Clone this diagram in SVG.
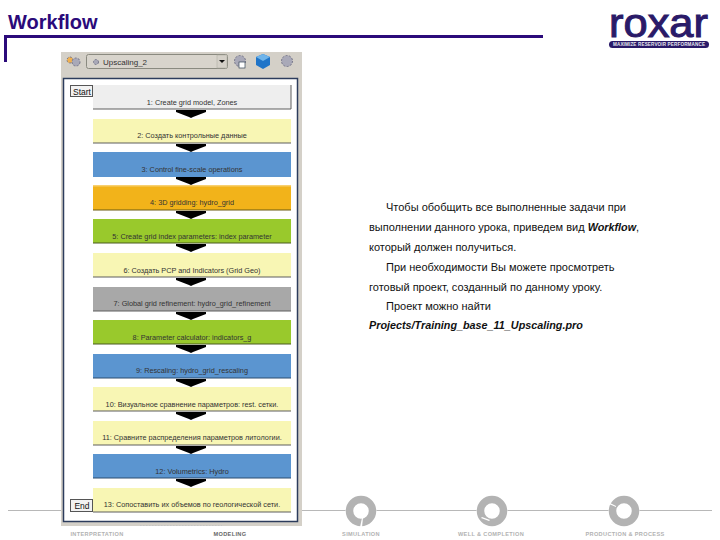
<svg xmlns="http://www.w3.org/2000/svg" width="720" height="540" viewBox="0 0 720 540">
<style>
.b{stroke:#5f5f5f;stroke-width:1;fill:none}
.l{font:7.300px "Liberation Sans",Arial,sans-serif;fill:#333;text-anchor:middle}
.p{font:11px "Liberation Sans",Arial,sans-serif;fill:#111}
.q{font:italic bold 10.800px "Liberation Sans",Arial,sans-serif;fill:#111}
.f{font:bold 5.600px "Liberation Sans",Arial,sans-serif;fill:#b2b2b2;text-anchor:middle;letter-spacing:.35px}
.g{fill:#a9a9b8;stroke:#77778a;stroke-width:1;stroke-dasharray:2 1.400}
.r{fill:none;stroke:#b3b3b3;stroke-width:7.500}
.x{font:8.500px "Liberation Sans",Arial,sans-serif;fill:#111;text-anchor:middle}
</style>
<defs>
<polygon id="ar" points="-15,0 15,0 15,2 2,7 0,8 -2,7 -15,2" fill="#000"/>
</defs>
<rect width="720" height="540" fill="#fff"/>
<g id="header">
<text x="8" y="29" font-family="Liberation Sans,Arial,sans-serif" font-weight="bold" font-size="20" fill="#2b0a7a">Workflow</text>
<path d="M5.500 62V36.500H543" fill="none" stroke="#2b0a7a" stroke-width="3"/>
</g>
<g id="logo">
<text x="609" y="37" font-family="Liberation Sans,Arial,sans-serif" font-size="40" fill="#2a1a68" stroke="#2a1a68" stroke-width="1" textLength="99" lengthAdjust="spacingAndGlyphs">roxar</text>
<rect x="609" y="41" width="100" height="7" rx="3.500" fill="#2a1a68"/>
<text x="659" y="46.300" font-family="Liberation Sans,Arial,sans-serif" font-weight="bold" font-size="4.600" fill="#e8e8f0" text-anchor="middle" textLength="92">MAXIMIZE RESERVOIR PERFORMANCE</text>
</g>
<g id="footer">
<path d="M8 510.500H712" stroke="#b8b8b8" stroke-width="1"/>
<circle cx="361" cy="511" r="15.500" fill="#fff"/>
<circle cx="492" cy="511" r="15.500" fill="#fff"/>
<circle cx="624" cy="511" r="15.500" fill="#fff"/>
<circle class="r" cx="361" cy="511" r="11.500"/><path d="M360 527l2-9 1 0-1 9z" fill="#fff"/>
<circle class="r" cx="492" cy="511" r="11.500"/><path d="M482 517l8 3-1 1-8-3z" fill="#fff"/>
<circle class="r" cx="624" cy="511" r="11.500"/><path d="M610 503l6 3 0 1-7-3z" fill="#fff"/>
<text class="f" x="97" y="536">INTERPRETATION</text>
<text class="f" x="230" y="536" style="fill:#666">MODELING</text>
<text class="f" x="361" y="536">SIMULATION</text>
<text class="f" x="491" y="536">WELL &amp; COMPLETION</text>
<text class="f" x="625" y="536">PRODUCTION &amp; PROCESS</text>
</g>
<g id="panel">
<rect x="61" y="52" width="241" height="474" fill="#d4d0c8"/>
<rect x="63.500" y="78.500" width="234" height="443" fill="#fff" stroke="#2c3c5c" stroke-width="1.500"/>
<rect x="86.500" y="54.500" width="141" height="14" rx="2" fill="#d8d4cc" stroke="#8a8a80"/>
<rect x="217" y="55" width="10" height="13" fill="#d4d0c8" stroke="#a8a89c" stroke-width=".5"/>
<path d="M219 60h6l-3 3z" fill="#111"/>
<circle class="g" cx="70" cy="60" r="3" style="fill:#f0b050"/><circle class="g" cx="76" cy="62" r="4"/>
<circle class="g" cx="96" cy="62" r="2.500"/>
<text x="103" y="65" font-family="Liberation Sans,Arial,sans-serif" font-size="8" fill="#333">Upscaling_2</text>
<circle class="g" cx="240" cy="61" r="5.500"/><rect x="239" y="62" width="6" height="6" fill="#fff" stroke="#345" stroke-width=".7"/>
<path d="M263 54l7 3v8l-7 4-7-4v-8z" fill="#1f74c8"/><path d="M263 54l7 3-7 4-7-4z" fill="#6fb4ea"/>
<circle class="g" cx="287" cy="61" r="5.500"/>
<path d="M140 525.500H222" stroke="#c6c6c6" stroke-dasharray="1.500 1.500"/>
</g>
<g id="connectors">
<use href="#ar" x="191" y="110"/><use href="#ar" x="191" y="144"/><use href="#ar" x="191" y="177"/><use href="#ar" x="191" y="211"/><use href="#ar" x="191" y="244"/><use href="#ar" x="191" y="278"/><use href="#ar" x="191" y="312"/><use href="#ar" x="191" y="345"/><use href="#ar" x="191" y="379"/><use href="#ar" x="191" y="412"/><use href="#ar" x="191" y="446"/><use href="#ar" x="191" y="479"/>
</g>
<g id="start"><rect x="70.500" y="85.500" width="22" height="11" fill="#f2f2f2" stroke="#555"/><text class="x" x="82" y="94.500">Start</text></g>
<g id="step1"><rect x="93" y="85" width="198" height="24" fill="#eeeeee"/><path class="b" d="M93 109H291V85"/><text class="l" x="192" y="105">1: Create grid model, Zones</text></g>
<g id="step2"><rect x="93" y="119" width="198" height="24" fill="#f8f6b4"/><path class="b" d="M93 143H291"/><text class="l" x="192" y="138">2: Создать контрольные данные</text></g>
<g id="step3"><rect x="93" y="152" width="198" height="25" fill="#5b95d0"/><text class="l" x="192" y="172">3: Control fine-scale operations</text></g>
<g id="step4"><rect x="93" y="186" width="198" height="24" fill="#f2b31a"/><rect x="93" y="185" width="198" height="1.500" fill="#f8d070"/><path d="M93 210H291" stroke="#6b5a10"/><text class="l" x="192" y="205">4: 3D gridding: hydro_grid</text></g>
<g id="step5"><rect x="93" y="219" width="198" height="24" fill="#99c92c"/><path d="M93 243H291" stroke="#4a5a20"/><text class="l" x="192" y="239">5: Create grid index parameters: index parameter</text></g>
<g id="step6"><rect x="93" y="253" width="198" height="24" fill="#f8f6b4"/><path class="b" d="M93 277H291"/><text class="l" x="192" y="273">6: Создать PCP and Indicators (Grid Geo)</text></g>
<g id="step7"><rect x="93" y="287" width="198" height="24" fill="#a8a8a8"/><path class="b" d="M93 311H291"/><text class="l" x="192" y="306">7: Global grid refinement: hydro_grid_refinement</text></g>
<g id="step8"><rect x="93" y="320" width="198" height="24" fill="#99c92c"/><path d="M93 344H291" stroke="#4a5a20"/><text class="l" x="192" y="340">8: Parameter calculator: indicators_g</text></g>
<g id="step9"><rect x="93" y="354" width="198" height="24" fill="#5b95d0"/><path d="M93 378H291" stroke="#2c4c70"/><text class="l" x="192" y="373">9: Rescaling: hydro_grid_rescaling</text></g>
<g id="step10"><rect x="93" y="387" width="198" height="24" fill="#f8f6b4"/><path class="b" d="M93 411H291"/><text class="l" x="192" y="407">10: Визуальное сравнение параметров: rest. сетки.</text></g>
<g id="step11"><rect x="93" y="421" width="198" height="24" fill="#f8f6b4"/><path class="b" d="M93 445H291"/><text class="l" x="192" y="440">11: Сравните распределения параметров литологии.</text></g>
<g id="step12"><rect x="93" y="454" width="198" height="24" fill="#5b95d0"/><path d="M93 478H291" stroke="#2c4c70"/><text class="l" x="192" y="474">12: Volumetrics: Hydro</text></g>
<g id="step13"><rect x="93" y="488" width="198" height="24" fill="#f8f6b4"/><path class="b" d="M93 512H291"/><text class="l" x="192" y="507">13: Сопоставить их объемов по геологической сети.</text></g>
<g id="end"><rect x="70.500" y="499.500" width="22" height="12" fill="#f2f2f2" stroke="#555"/><text class="x" x="82" y="509">End</text></g>
<g id="body">
<text class="p" x="386" y="211">Чтобы обобщить все выполненные задачи при</text>
<text class="p" x="369" y="231">выполнении данного урока, приведем вид <tspan class="q">Workflow</tspan>,</text>
<text class="p" x="369" y="251">который должен получиться.</text>
<text class="p" x="386" y="271">При необходимости Вы можете просмотреть</text>
<text class="p" x="369" y="291">готовый проект, созданный по данному уроку.</text>
<text class="p" x="386" y="310">Проект можно найти</text>
<text class="q" x="369" y="329">Projects/Training_base_11_Upscaling.pro</text>
</g>
</svg>
